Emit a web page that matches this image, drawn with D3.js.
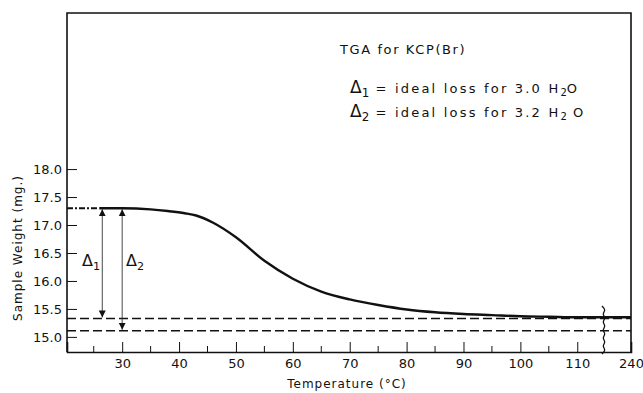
<!DOCTYPE html>
<html>
<head>
<meta charset="utf-8">
<script src="https://cdn.jsdelivr.net/npm/d3@7"></script>
<style>
  body { margin: 0; background: #fff; }
  svg { display: block; }
  text { font-family: 'DejaVu Sans', sans-serif; fill: #111; }
</style>
</head>
<body>
<svg id="chart" width="643" height="393"></svg>
<script>
// TGA curve (temperature in degC, weight in mg)
const temps   = [26, 30, 35, 38, 41, 43, 46, 50, 55, 60, 65, 70, 75, 80, 85, 90, 95, 100, 105, 110, 114.7, 240];
const weights = [17.30, 17.30, 17.28, 17.25, 17.21, 17.17, 17.04, 16.78, 16.36, 16.04, 15.81, 15.67, 15.57, 15.49, 15.44, 15.41, 15.39, 15.37, 15.36, 15.35, 15.35, 15.35];
const startWeight = 17.30;
const ideal1 = 15.33;   // ideal loss for 3.0 H2O
const ideal2 = 15.11;   // ideal loss for 3.2 H2O
const arrowTemps = [26.5, 30];
const xTicks = [30, 40, 50, 60, 70, 80, 90, 100, 110, 240];
const xMinorTicks = [25, 35, 45, 55, 65, 75, 85, 95, 105];
const yTicks = [15.0, 15.5, 16.0, 16.5, 17.0, 17.5, 18.0];

const LEFT = 67, RIGHT = 631, TOP = 13, BOTTOM = 352;
const BREAK_X = 604;

const svg = d3.select('#chart');

// broken x axis: 20.3..114.7 linear, then a short stretch up to 240
const x = d3.scaleLinear()
  .domain([20.3, 114.7, 240])
  .range([LEFT, BREAK_X, RIGHT]);

const y = d3.scaleLinear()
  .domain([14.73, 20.79])
  .range([BOTTOM, TOP]);

// frame
svg.append('path')
  .attr('d', `M${LEFT},${BOTTOM}V${TOP}H${RIGHT}V${BOTTOM}`)
  .attr('fill', 'none')
  .attr('stroke', '#111')
  .attr('stroke-width', 1.6);

// x axis, ticks pointing inward
const xAxis = svg.append('g')
  .attr('transform', `translate(0,${BOTTOM})`)
  .call(d3.axisBottom(x).tickValues(xTicks).tickSize(-10).tickPadding(7).tickFormat(d3.format('d')));
xAxis.select('.domain').attr('stroke', '#111').attr('stroke-width', 1.6);
xAxis.selectAll('.tick line').attr('stroke', '#111');
xAxis.selectAll('.tick text').attr('font-size', 13).attr('font-family', 'DejaVu Sans').attr('fill', '#111');
xAxis.selectAll('.tick').filter(d => d === 240).select('line').remove();

svg.append('g')
  .selectAll('line')
  .data(xMinorTicks)
  .join('line')
  .attr('x1', d => x(d)).attr('x2', d => x(d))
  .attr('y1', BOTTOM).attr('y2', BOTTOM - 6)
  .attr('stroke', '#111');

// y axis, ticks pointing inward
const yAxis = svg.append('g')
  .attr('transform', `translate(${LEFT},0)`)
  .call(d3.axisLeft(y).tickValues(yTicks).tickSize(-10).tickPadding(5).tickFormat(d3.format('.1f')));
yAxis.select('.domain').remove();
yAxis.selectAll('.tick line').attr('stroke', '#111');
yAxis.selectAll('.tick text').attr('font-size', 13).attr('font-family', 'DejaVu Sans').attr('fill', '#111');

// axis titles
svg.append('text')
  .attr('x', 347).attr('y', 388)
  .attr('text-anchor', 'middle')
  .attr('font-size', 12)
  .attr('letter-spacing', 1)
  .text('Temperature (°C)');

svg.append('text')
  .attr('transform', 'translate(22,248) rotate(-90)')
  .attr('text-anchor', 'middle')
  .attr('font-size', 12)
  .attr('letter-spacing', 1)
  .text('Sample Weight (mg.)');

// ideal loss levels
[ideal1, ideal2].forEach(v => {
  svg.append('line')
    .attr('x1', LEFT).attr('x2', RIGHT)
    .attr('y1', y(v)).attr('y2', y(v))
    .attr('stroke', '#111')
    .attr('stroke-width', 1.6)
    .attr('stroke-dasharray', '9,4');
});

// extrapolated start (dash-dot)
svg.append('line')
  .attr('x1', LEFT).attr('x2', x(temps[0]))
  .attr('y1', y(startWeight)).attr('y2', y(startWeight))
  .attr('stroke', '#111')
  .attr('stroke-width', 1.8)
  .attr('stroke-dasharray', '6,2,2,2');

// TGA curve
const line = d3.line()
  .x(d => x(d[0]))
  .y(d => y(d[1]))
  .curve(d3.curveMonotoneX);

svg.append('path')
  .datum(d3.zip(temps, weights))
  .attr('d', line)
  .attr('fill', 'none')
  .attr('stroke', '#111')
  .attr('stroke-width', 2.4);

// break symbol on x axis
const zz = [];
for (let i = 0; i <= 12; i++) {
  zz.push([BREAK_X + (i % 2 === 0 ? -2 : 2), 306 + i * 4]);
}
svg.append('path')
  .attr('d', d3.line().curve(d3.curveBasis)(zz))
  .attr('fill', 'none')
  .attr('stroke', '#111')
  .attr('stroke-width', 1.3);

// delta arrows
svg.append('defs').append('marker')
  .attr('id', 'head')
  .attr('viewBox', '0 0 10 10')
  .attr('refX', 10).attr('refY', 5)
  .attr('markerWidth', 7).attr('markerHeight', 9)
  .attr('markerUnits', 'userSpaceOnUse')
  .attr('orient', 'auto-start-reverse')
  .append('path')
  .attr('d', 'M0,0L10,5L0,10Z')
  .attr('fill', '#111');

[[arrowTemps[0], ideal1], [arrowTemps[1], ideal2]].forEach(([t, v]) => {
  svg.append('line')
    .attr('x1', x(t)).attr('x2', x(t))
    .attr('y1', y(startWeight) + 1).attr('y2', y(v) - 1)
    .attr('stroke', '#333')
    .attr('stroke-width', 0.9)
    .attr('marker-start', 'url(#head)')
    .attr('marker-end', 'url(#head)');
});

function delta(g, px, py, sub, size) {
  const t = g.append('text').attr('x', px).attr('y', py).attr('font-size', size);
  t.append('tspan').text('\u0394');
  t.append('tspan').attr('font-size', size * 0.7).attr('dy', 4).text(sub);
  return t;
}

delta(svg, 82, 266, '1', 16);
delta(svg, 126, 266, '2', 16);

// annotations
svg.append('text')
  .attr('x', 340).attr('y', 54)
  .attr('font-size', 13)
  .attr('letter-spacing', 1.6)
  .text('TGA for KCP(Br)');

function legendLine(py, sub, amount, gap) {
  const t = delta(svg, 350, py, sub, 17);
  const r = t.append('tspan').attr('dy', -4).attr('font-size', 13).attr('letter-spacing', 2.2);
  r.text(` = ideal loss for ${amount} H`);
  t.append('tspan').attr('dy', 3).attr('font-size', 10).text('2');
  t.append('tspan').attr('dy', -3).attr('font-size', 13).attr('letter-spacing', 2.2).text(gap + 'O');
}
legendLine(93, '1', '3.0', '');
legendLine(117, '2', '3.2', ' ');
</script>
</body>
</html>
